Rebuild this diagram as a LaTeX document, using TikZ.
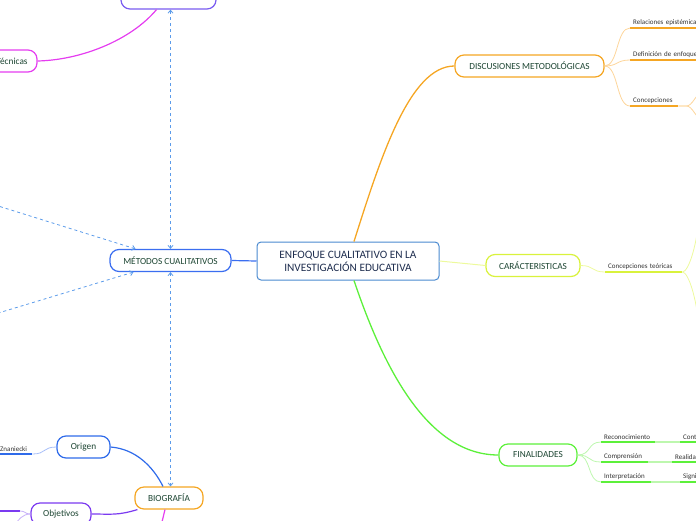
\documentclass[tikz,border=0pt]{standalone}
\usepackage{fontspec}
\setmainfont{Carlito}
\usepackage{tikz}
\usetikzlibrary{arrows.meta}
\usepackage{xcolor}

\definecolor{txtgreen}{HTML}{1C4532}
\definecolor{txtnavy}{HTML}{1F2E4F}
\definecolor{cenblue}{HTML}{4A8AD0}
\definecolor{metblue}{HTML}{3B6EF0}
\definecolor{dashblue}{HTML}{5B9BEA}
\definecolor{orig}{HTML}{2F6BEA}
\definecolor{orng}{HTML}{F5A623}
\definecolor{orngl}{HTML}{FDD59A}
\definecolor{ylw}{HTML}{D9F23C}
\definecolor{ylwl}{HTML}{EDFA9C}
\definecolor{grn}{HTML}{5CF03A}
\definecolor{grnl}{HTML}{BDF7AE}
\definecolor{mag}{HTML}{E53DF0}
\definecolor{purp}{HTML}{7B3AF0}
\definecolor{purpl}{HTML}{C7B0F8}
\definecolor{topc}{HTML}{7A5CF0}

\begin{document}
\begin{tikzpicture}[x=1pt, y=-1pt,
    topic/.style={draw, line width=1.2pt, fill=white, rounded corners=9pt, minimum height=22pt,
                  inner sep=0pt, text=txtgreen, font=\fontsize{9.3}{11}\selectfont},
    leaf/.style={anchor=south west, inner xsep=3pt, inner ysep=2.5pt, align=left,
                 text=black!80, font=\fontsize{7}{8}\selectfont},
    ul/.style={line width=1.6pt},
    thin/.style={line width=0.8pt},
    rel/.style={dashblue, dashed, line width=0.8pt, {Straight Barb[length=3pt,width=5pt]}-{Straight Barb[length=3pt,width=5pt]}}]

        \useasboundingbox (0,0) rectangle (696,520);

        % Central topic
        \node[draw=cenblue, line width=1pt, fill=white, rounded corners=4pt, minimum width=182pt,
              minimum height=38pt, align=center, text=txtnavy, font=\fontsize{11.3}{13}\selectfont]
              (cen) at (348,261) {ENFOQUE CUALITATIVO EN LA\\INVESTIGACIÓN EDUCATIVA};

        % Main topics
        \node[topic, draw=metblue, minimum width=121pt] (met) at (170.5,260.5) {MÉTODOS CUALITATIVOS};
        \node[topic, draw=orng, minimum width=149pt] (dis) at (529.5,66) {DISCUSIONES METODOLÓGICAS};
        \node[topic, draw=ylw, minimum width=94pt] (car) at (533,265.5) {CARÁCTERISTICAS};
        \node[topic, draw=grn, minimum width=78pt] (fin) at (538,455) {FINALIDADES};

        % Topics on the left side
        \node[topic, draw=topc, minimum width=95pt] (top) at (168.5,-2) {};
        \node[topic, draw=mag, minimum width=50pt] (tec) at (12,61) {Técnicas};
        \node[topic, draw=orig, minimum width=53pt] (ori) at (83.5,447) {Origen};
        \node[topic, draw=orng, minimum width=68pt] (bio) at (169,498) {BIOGRAFÍA};
        \node[topic, draw=purp, minimum width=60pt] (obj) at (61,514) {Objetivos};

        % Subtopics
        \node[leaf, text width=74pt] (rel) at (630,28) {Relaciones epistémicas};
        \node[leaf, text width=74pt] (def) at (630,60) {Definición de enfoques};
        \node[leaf, text width=42pt] (conc) at (630,106) {Concepciones};
        \node[leaf, text width=71pt] (cteo) at (605,272) {Concepciones teóricas};
        \node[leaf, text width=48pt] (rec) at (601,442) {Reconocimiento};
        \node[leaf, text width=41pt] (com) at (601,462) {Comprensión};
        \node[leaf, text width=44pt] (int) at (601,482) {Interpretación};
        \node[leaf, text width=24pt] (cont) at (680,442) {Contexto};
        \node[leaf, text width=24pt] (rea) at (672,462) {Realidad};
        \node[leaf, text width=24pt] (sig) at (680,482) {Significado};
        \node[leaf, text width=32pt, inner xsep=0pt] (zna) at (0,454) {Znaniecki};

        % Free ends beyond the page
        \coordinate (c1) at (700,94);
        \coordinate (c2) at (700,118);
        \coordinate (t1) at (700,205);
        \coordinate (t2) at (700,340);
        \coordinate (m1) at (-5,205);
        \coordinate (m2) at (-5,314);
        \coordinate (ol) at (20,511);
        \coordinate (ol2) at (-5,511);
        \coordinate (od) at (14,526);
        \coordinate (mg) at (161,526);

        % Branches of the central topic
        \draw[orng, line width=1.3pt] ([xshift=6pt]cen.north) .. controls +(26,-82) and +(-45,0) .. (dis.west);
        \draw[grn, line width=1.3pt] ([xshift=6pt]cen.south) .. controls +(30,89) and +(-70,0) .. (fin.west);
        \draw[ylwl, line width=1pt] (cen.east) -- (car.west);
        \draw[metblue, line width=1.2pt] (met.east) -- (cen.west);

        % Underlines
        \draw[ul, orng] (rel.south west) -- (rel.south east);
        \draw[ul, orng] (def.south west) -- (def.south east);
        \draw[ul, orng] (conc.south west) -- (conc.south east);
        \draw[ul, ylw] (cteo.south west) -- (cteo.south east);
        \foreach \n in {rec, com, int, cont, rea, sig}
            \draw[ul, grn] (\n.south west) -- (\n.south east);
        \draw[ul, orig] (zna.south west) -- (zna.south east);
        \draw[ul, purp] (ol2) -- (ol);

        % Thin connectors
        \foreach \n in {rel, def, conc}
            \draw[thin, orngl] (dis.east) .. controls +(14,0) and +(-14,0) .. (\n.south west);
        \draw[thin, orngl] (conc.south east) -- +(8,0) .. controls +(6,0) and +(-4,0) .. (c1);
        \draw[thin, orngl] (conc.south east) -- +(8,0) .. controls +(6,0) and +(-4,0) .. (c2);
        \draw[thin, ylwl] (car.east) .. controls +(14,0) and +(-14,0) .. (cteo.south west);
        \draw[thin, ylwl] (cteo.south east) .. controls +(6,0) and +(-2,40) .. (t1);
        \draw[thin, ylwl] (cteo.south east) .. controls +(6,0) and +(-2,-40) .. (t2);
        \foreach \n in {rec, com, int}
            \draw[thin, grnl] (fin.east) .. controls +(14,0) and +(-14,0) .. (\n.south west);
        \draw[ul, grnl] (rec.south east) -- (cont.south west);
        \draw[ul, grnl] (com.south east) -- (rea.south west);
        \draw[ul, grnl] (int.south east) -- (sig.south west);
        \draw[thin, metblue!45] (zna.south east) .. controls +(14,0) and +(-14,0) .. (ori.west);
        \draw[thin, purpl] (ol) .. controls +(6,0) and +(-6,0) .. (obj.west);
        \draw[thin, purpl] (obj.west) .. controls +(-8,0) and +(4,-6) .. (od);

        % Left side branches
        \draw[mag, line width=1.2pt] ([xshift=-12pt]top.south) .. controls +(-26,31) and +(43,-1) .. (tec.east);
        \draw[orig, line width=1.2pt] (ori.east) .. controls +(25,2) and +(-10,-20) .. ([xshift=-6pt]bio.north);
        \draw[purp, line width=1.2pt] ([xshift=3pt]bio.south west) .. controls +(-20,6) and +(20,0) .. (obj.east);
        \draw[mag, line width=1.2pt] ([xshift=-4pt]bio.south) -- (mg);

        % Relations
        \draw[rel] (met.north) -- (met.north |- top.south);
        \draw[rel] (met.south) -- (met.south |- bio.north);
        \draw[rel, {Straight Barb[length=3pt,width=5pt]}-] ([xshift=-35pt]met.north) -- (m1);
        \draw[rel, {Straight Barb[length=3pt,width=5pt]}-] ([xshift=-37pt]met.south) -- (m2);

    \end{tikzpicture}
\end{document}
